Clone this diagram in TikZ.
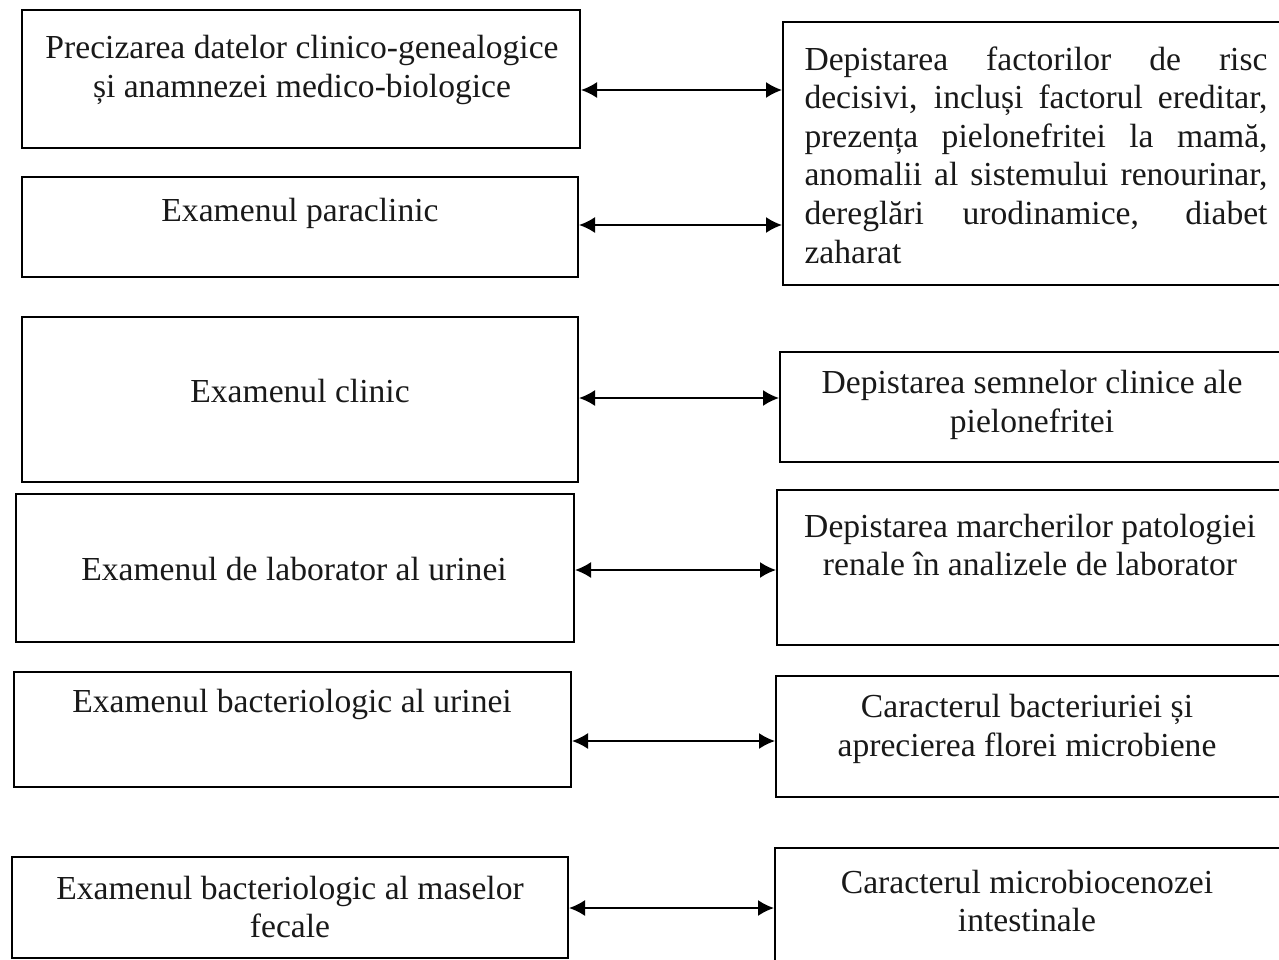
\documentclass[tikz,border=0pt]{standalone}
\usepackage{fontspec}
\setmainfont{Liberation Serif}
\usetikzlibrary{arrows.meta,fit}
\begin{document}
\begin{tikzpicture}[x=0.5pt,y=-0.5pt,
  box/.style={draw=black,line width=1pt,inner sep=0pt,rectangle},
  txt/.style={font=\fontsize{16.8pt}{19.3pt}\selectfont,align=center,inner sep=0pt,text=black!90},
  arr/.style={{Latex[length=8pt,width=8pt]}-{Latex[length=8pt,width=8pt]},line width=0.9pt}]
\useasboundingbox (0,0) rectangle (1279,959);
\clip (0,0) rectangle (1279,959);
% left boxes
\node[box,fit={(22,10)(580,148)}] (L1) {};
\node[box,fit={(22,177)(578,277)}] (L2) {};
\node[box,fit={(22,317)(578,482)}] (L3) {};
\node[box,fit={(16,494)(574,642)}] (L4) {};
\node[box,fit={(14,672)(571,787)}] (L5) {};
\node[box,fit={(12,857)(568,958)}] (L6) {};
% right boxes
\node[box,fit={(783,22)(1290,285)}] (R1) {};
\node[box,fit={(780,352)(1290,462)}] (R2) {};
\node[box,fit={(777,490)(1290,645)}] (R3) {};
\node[box,fit={(776,676)(1290,797)}] (R4) {};
\node[box,fit={(775,848)(1290,975)}] (R5) {};
% texts
\node[txt] (L1t) at (302,70) {Precizarea datelor clinico-genealogice\\și anamnezei medico-biologice};
\node[txt] (L2t) at (300,213) {Examenul paraclinic};
\node[txt] (L3t) at (300,391) {Examenul clinic};
\node[txt] (L4t) at (294,569) {Examenul de laborator al urinei};
\node[txt] (L5t) at (292,704) {Examenul bacteriologic al urinei};
\node[txt] (L6t) at (290,907) {Examenul bacteriologic al maselor\\fecale};
\node[txt,align=left] (R1t) at (1036,155) {%
\makebox[231.5pt][s]{Depistarea factorilor de risc}\\
\makebox[231.5pt][s]{decisivi, incluși factorul ereditar,}\\
\makebox[231.5pt][s]{prezența pielonefritei la mamă,}\\
\makebox[231.5pt][s]{anomalii al sistemului renourinar,}\\
\makebox[231.5pt][s]{dereglări urodinamice, diabet}\\
\makebox[231.5pt][l]{zaharat}};
\node[txt] (R2t) at (1032,405) {Depistarea semnelor clinice ale\\pielonefritei};
\node[txt] (R3t) at (1030,545) {Depistarea marcherilor patologiei\\renale în analizele de laborator};
\node[txt] (R4t) at (1027,729) {Caracterul bacteriuriei și\\aprecierea florei microbiene};
\node[txt] (R5t) at (1027,901) {Caracterul microbiocenozei\\intestinale};
% arrows
\draw[arr] (L1.east |- 0,90) -- (R1.west |- 0,90);
\draw[arr] (L2.east |- 0,225) -- (R1.west |- 0,225);
\draw[arr] (L3.east |- 0,398) -- (R2.west |- 0,398);
\draw[arr] (L4.east |- 0,570) -- (R3.west |- 0,570);
\draw[arr] (L5.east |- 0,741) -- (R4.west |- 0,741);
\draw[arr] (L6.east |- 0,908) -- (R5.west |- 0,908);
\end{tikzpicture}
\end{document}
